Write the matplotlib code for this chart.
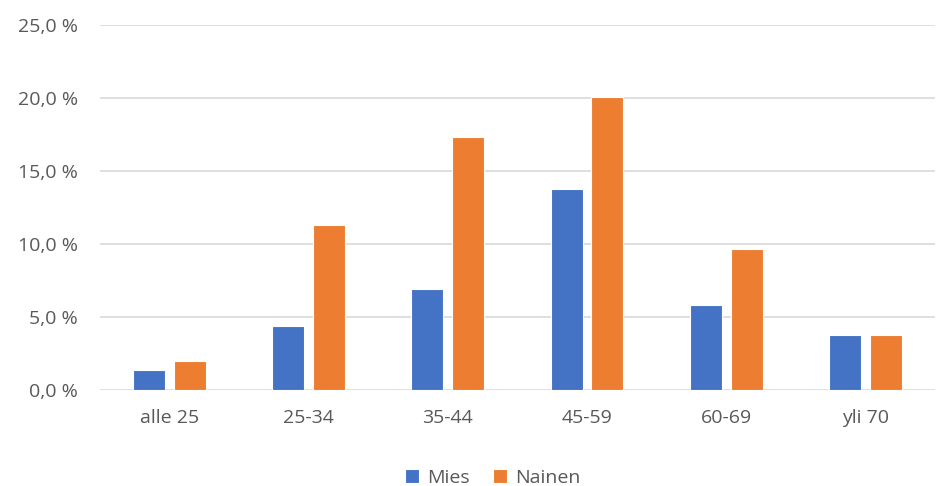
import numpy as np
import matplotlib.pyplot as plt
from matplotlib.ticker import FuncFormatter

plt.rcParams['font.family'] = ['Open Sans', 'DejaVu Sans']

# age groups and shares (%)
categories = ["alle 25", "25-34", "35-44", "45-59", "60-69", "yli 70"]
mies = [1.4, 4.4, 6.9, 13.8, 5.8, 3.75]
nainen = [2.0, 11.3, 17.35, 20.05, 9.65, 3.75]
yticks = [0, 5, 10, 15, 20, 25]

blue = "#4472C4"
orange = "#ED7D31"
grey = "#595959"

fig = plt.figure(figsize=(9.37, 4.86), dpi=100)
ax = fig.add_axes([0.1067, 0.1975, 0.891, 0.7505])

x = np.arange(len(categories))
w = 0.23
gap = 0.032
ax.bar(x - w / 2 - gap, mies, width=w, color=blue, edgecolor="white", linewidth=0.8, label="Mies", zorder=3)
ax.bar(x + w / 2 + gap, nainen, width=w, color=orange, edgecolor="white", linewidth=0.8, label="Nainen", zorder=3)

ax.set_xlim(-0.5, len(categories) - 0.5)
ax.set_ylim(0, 25)
ax.set_yticks(yticks)
ax.yaxis.set_major_formatter(FuncFormatter(lambda v, p: f"{v:.1f}".replace(".", ",") + " %"))
ax.set_xticks(x)
ax.set_xticklabels(categories)
ax.grid(axis="y", color="#d9d9d9", linewidth=1.2, zorder=0)
for s in ax.spines.values():
    s.set_visible(False)
ax.tick_params(length=0, labelsize=14, colors=grey)
ax.tick_params(axis="y", pad=16)
ax.tick_params(axis="x", pad=14)

fig.legend(loc="center", bbox_to_anchor=(0.526, 0.016), ncol=2, frameon=False,
           fontsize=14, labelcolor=grey, handlelength=0.72, handleheight=0.72,
           handletextpad=0.4, columnspacing=1.2)

fig.savefig("out.png", dpi=100)
